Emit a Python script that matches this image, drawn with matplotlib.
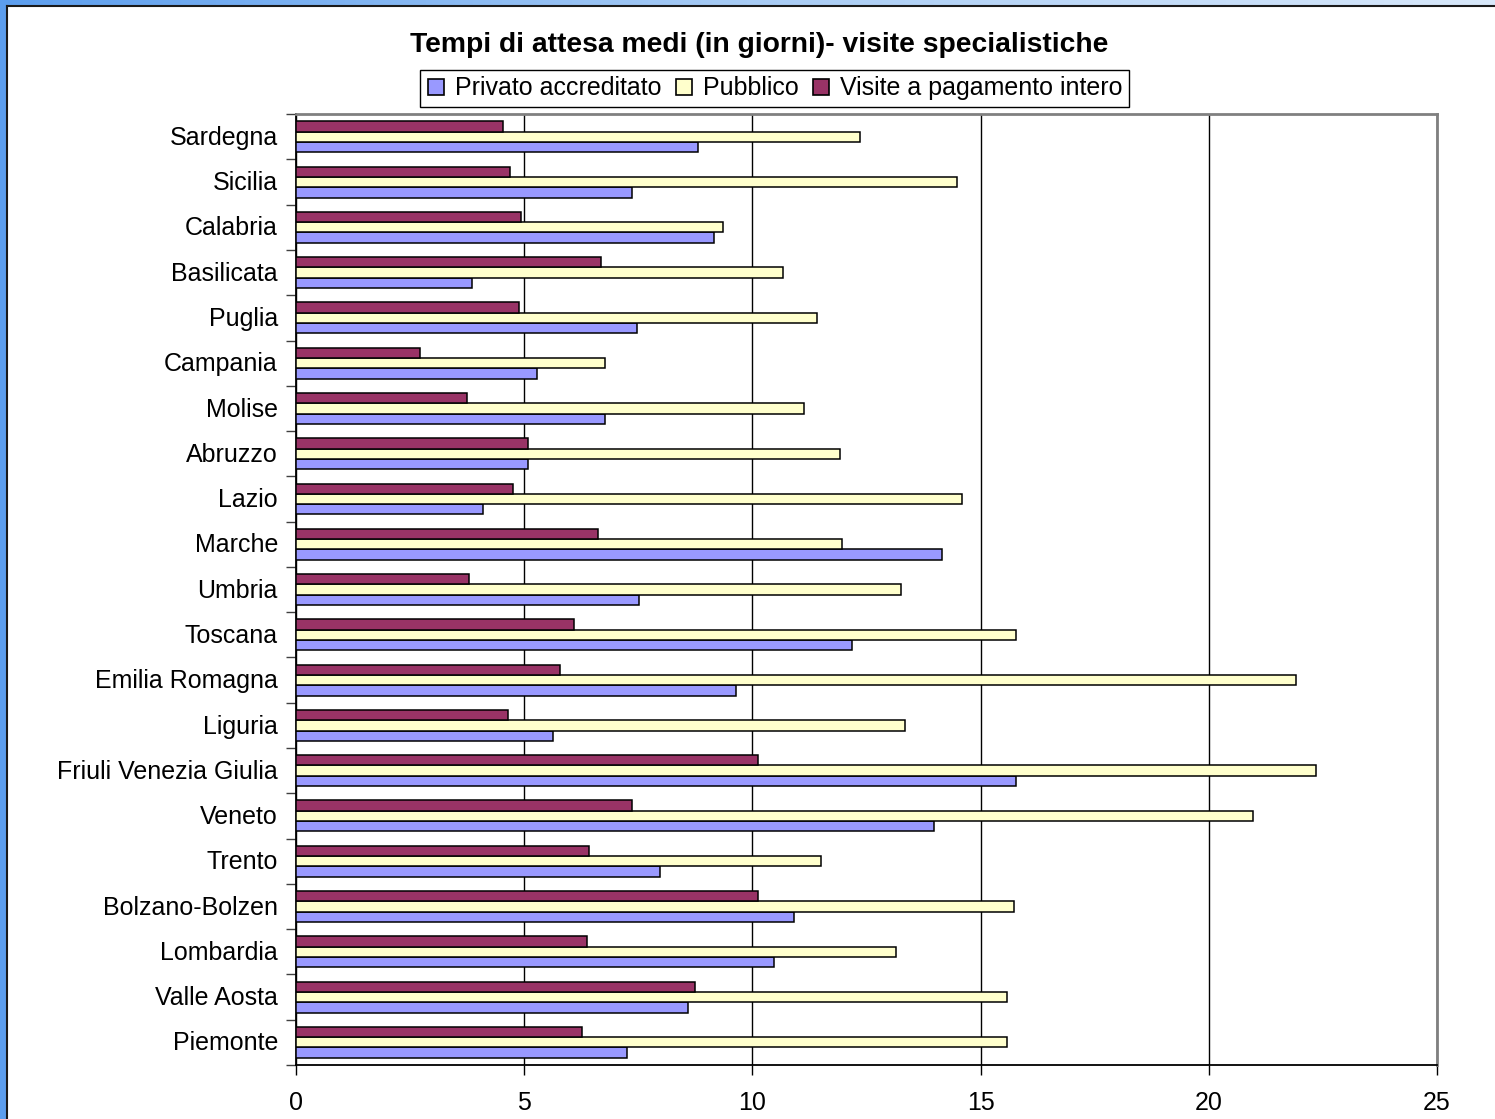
import numpy as np
import matplotlib.pyplot as plt
from matplotlib.patches import Rectangle
from matplotlib.lines import Line2D
from matplotlib.colors import LinearSegmentedColormap

plt.rcParams['font.family'] = ['Liberation Sans', 'DejaVu Sans']

# regions from bottom (Piemonte) to top (Sardegna)
regioni = ['Piemonte', 'Valle Aosta', 'Lombardia', 'Bolzano-Bolzen', 'Trento', 'Veneto',
           'Friuli Venezia Giulia', 'Liguria', 'Emilia Romagna', 'Toscana', 'Umbria',
           'Marche', 'Lazio', 'Abruzzo', 'Molise', 'Campania', 'Puglia', 'Basilicata',
           'Calabria', 'Sicilia', 'Sardegna']

privato = [7.25, 8.59, 10.47, 10.91, 7.98, 13.98, 15.78, 5.63, 9.64, 12.18, 7.52,
           14.15, 4.10, 5.08, 6.77, 5.28, 7.47, 3.86, 9.16, 7.36, 8.81]
pubblico = [15.58, 15.58, 13.15, 15.73, 11.50, 20.97, 22.35, 13.34, 21.91, 15.78, 13.26,
            11.96, 14.59, 11.92, 11.13, 6.77, 11.42, 10.67, 9.36, 14.48, 12.36]
pagamento = [6.27, 8.74, 6.38, 10.12, 6.42, 7.36, 10.12, 4.65, 5.78, 6.09, 3.79,
             6.62, 4.75, 5.08, 3.75, 2.72, 4.89, 6.68, 4.93, 4.69, 4.54]

serie = ['Privato accreditato', 'Pubblico', 'Visite a pagamento intero']
colori = ['#9999FF', '#FFFFCC', '#993366']

fig = plt.figure(figsize=(14.95, 11.19), dpi=100)
ax = fig.add_axes([0.198, 0.0483, 0.7632, 0.8497])

y = np.arange(len(regioni))
h = 0.228
for valori, off, col in zip([privato, pubblico, pagamento], [-h, 0, h], colori):
    ax.barh(y + off, valori, height=h, color=col, edgecolor='black', linewidth=1.1, zorder=3)

ax.set_xlim(0, 25)
ax.set_ylim(-0.5, len(regioni) - 0.5)
ax.set_xticks([0, 5, 10, 15, 20, 25])
ax.tick_params(axis='x', labelsize=18, length=7, width=1, pad=12, direction='out')
ax.xaxis.grid(True, color='black', linewidth=1, zorder=0)

# category ticks sit between groups, labels centred on groups
ax.set_yticks(np.arange(-0.5, len(regioni)), minor=False)
ax.set_yticklabels([])
ax.set_yticks(y + 0.03, minor=True)
ax.set_yticklabels(regioni, minor=True)
ax.tick_params(axis='y', which='major', length=7, width=1, color='#404040')
ax.tick_params(axis='y', which='minor', length=0, labelsize=18, pad=13)

ax.spines['left'].set_color('black')
ax.spines['bottom'].set_color('black')
ax.spines['left'].set_linewidth(1.3)
ax.spines['bottom'].set_linewidth(1.3)
ax.spines['top'].set_color('#808080')
ax.spines['right'].set_color('#808080')
ax.spines['top'].set_linewidth(2)
ax.spines['right'].set_linewidth(2)

fig.text(0.508, 0.960, 'Tempi di attesa medi (in giorni)- visite specialistiche',
         ha='center', va='center', fontsize=20.3, fontweight='bold')

handles = [Line2D([], [], marker='s', linestyle='none', markersize=11,
                  markerfacecolor=c, markeredgecolor='black', markeredgewidth=1.2)
           for c in colori]
leg = fig.legend(handles, serie, loc='center', bbox_to_anchor=(0.518, 0.921), ncol=3,
                 fontsize=18, frameon=True, fancybox=False, framealpha=1,
                 edgecolor='black', handlelength=0.8, handletextpad=0.35,
                 columnspacing=0.5, borderpad=0.25, borderaxespad=0)
leg.get_frame().set_linewidth(1)

# window frame: blue strip on the left, gradient bar on top
fig.patches.append(Rectangle((0, 0), 7 / 1495, 1, transform=fig.transFigure,
                             facecolor='#5C9EEE', edgecolor='none', zorder=0))
top = fig.add_axes([0, 1 - 6 / 1119, 1, 6 / 1119])
grad = np.linspace(0, 1, 256).reshape(1, -1)
cmap = LinearSegmentedColormap.from_list('frame', ['#5C9EEE', '#A8CCF5', '#D8E8FA'])
top.imshow(grad, aspect='auto', cmap=cmap)
top.axis('off')
fig.add_artist(Line2D([7 / 1495, 7 / 1495], [0, 1 - 6 / 1119], color='#1a1a1a',
                      linewidth=1.5, transform=fig.transFigure))
fig.add_artist(Line2D([7 / 1495, 1], [1 - 6 / 1119, 1 - 6 / 1119], color='#1a1a1a',
                      linewidth=1.5, transform=fig.transFigure))

fig.savefig('out.png', dpi=100)
